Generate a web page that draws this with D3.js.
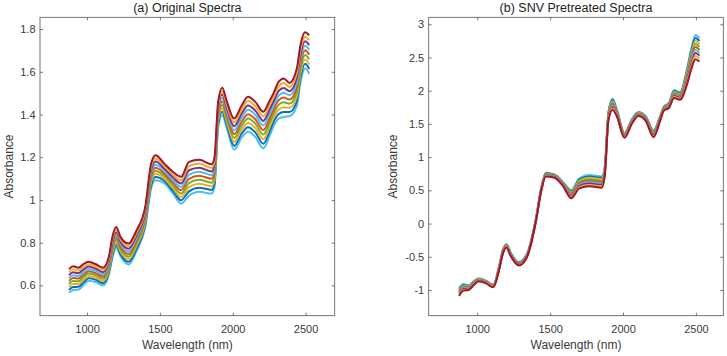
<!DOCTYPE html>
<html>
<head>
<meta charset="utf-8">
<script src="https://cdn.jsdelivr.net/npm/d3@7"></script>
<style>
  html, body { margin: 0; padding: 0; background: #ffffff; }
  svg { display: block; }
  text { font-family: "Liberation Sans", Arial, Helvetica, sans-serif; }
</style>
</head>
<body>
<script>
// ---------------- DATA ----------------
const wavelengths = [876, 905, 940, 975, 1010, 1060, 1110, 1150, 1175, 1200, 1230, 1285, 1340, 1400, 1440, 1470, 1530, 1590, 1645, 1700, 1770, 1855, 1875, 1900, 1928, 1960, 2010, 2060, 2105, 2155, 2210, 2255, 2280, 2315, 2350, 2390, 2440, 2465, 2497, 2525];

// (a) Original spectra (absorbance), bottom to top of the band
const orig0 = [.565,.578,.580,.600,.622,.615,.600,.650,.730,.777,.735,.698,.760,.875,1.055,1.092,1.078,1.030,.983,1.020,1.038,1.030,1.060,1.340,1.397,1.334,1.235,1.290,1.319,1.295,1.241,1.303,1.345,1.380,1.389,1.392,1.440,1.550,1.616,1.590];
const orig1 = [.579,.592,.593,.613,.633,.626,.610,.661,.743,.789,.746,.710,.772,.887,1.069,1.107,1.090,1.043,.999,1.040,1.057,1.047,1.078,1.355,1.413,1.350,1.253,1.309,1.340,1.316,1.263,1.324,1.364,1.402,1.412,1.412,1.462,1.572,1.637,1.613];
const orig2 = [.593,.606,.606,.625,.644,.636,.621,.671,.755,.801,.758,.723,.785,.899,1.084,1.121,1.101,1.055,1.014,1.060,1.076,1.064,1.095,1.370,1.429,1.365,1.272,1.328,1.360,1.336,1.284,1.344,1.384,1.423,1.434,1.431,1.484,1.594,1.658,1.635];
const orig3 = [.607,.620,.619,.638,.655,.647,.631,.682,.768,.813,.769,.735,.797,.911,1.098,1.136,1.113,1.068,1.030,1.079,1.094,1.081,1.113,1.385,1.445,1.381,1.290,1.346,1.381,1.357,1.306,1.365,1.403,1.445,1.457,1.451,1.506,1.616,1.679,1.658];
const orig4 = [.621,.634,.632,.650,.666,.657,.642,.693,.780,.825,.781,.747,.809,.923,1.113,1.151,1.124,1.081,1.046,1.099,1.113,1.099,1.130,1.400,1.461,1.397,1.308,1.365,1.401,1.377,1.327,1.385,1.422,1.467,1.479,1.470,1.528,1.638,1.701,1.680];
const orig5 = [.634,.647,.644,.663,.677,.668,.652,.703,.793,.837,.792,.759,.821,.934,1.127,1.165,1.136,1.093,1.061,1.119,1.132,1.116,1.148,1.415,1.477,1.412,1.326,1.384,1.422,1.398,1.349,1.406,1.441,1.488,1.502,1.490,1.549,1.659,1.722,1.703];
const orig6 = [.648,.661,.657,.675,.688,.678,.662,.714,.805,.849,.803,.772,.834,.946,1.141,1.180,1.147,1.106,1.077,1.139,1.151,1.133,1.165,1.430,1.493,1.428,1.345,1.403,1.442,1.418,1.370,1.426,1.461,1.510,1.524,1.509,1.571,1.681,1.743,1.725];
const orig7 = [.662,.675,.670,.688,.699,.689,.673,.724,.818,.861,.815,.784,.846,.958,1.156,1.194,1.159,1.118,1.092,1.158,1.169,1.150,1.183,1.445,1.509,1.443,1.363,1.421,1.463,1.439,1.392,1.447,1.480,1.531,1.547,1.529,1.593,1.703,1.764,1.748];
const orig8 = [.676,.689,.683,.700,.710,.699,.683,.735,.830,.873,.826,.796,.858,.970,1.170,1.209,1.170,1.131,1.108,1.178,1.188,1.167,1.200,1.460,1.525,1.459,1.381,1.440,1.483,1.459,1.413,1.467,1.499,1.553,1.569,1.548,1.615,1.725,1.785,1.770];

// (b) SNV pretreated spectra
const snv0 = [-1.090,-1.010,-1.000,-0.930,-0.870,-0.900,-0.960,-0.700,-0.460,-0.360,-0.490,-0.630,-0.510,0.000,0.500,0.710,0.690,0.560,0.380,0.530,0.560,0.540,0.720,1.550,1.715,1.600,1.290,1.500,1.620,1.550,1.300,1.550,1.700,1.740,1.890,1.865,2.100,2.300,2.475,2.440];
const snv1 = [-1.075,-0.998,-0.991,-0.923,-0.864,-0.895,-0.955,-0.693,-0.453,-0.354,-0.484,-0.624,-0.504,0.006,0.506,0.717,0.696,0.568,0.395,0.549,0.581,0.561,0.738,1.566,1.736,1.613,1.299,1.509,1.628,1.559,1.313,1.559,1.708,1.750,1.905,1.879,2.130,2.338,2.521,2.484];
const snv2 = [-1.060,-0.985,-0.983,-0.915,-0.859,-0.890,-0.950,-0.685,-0.445,-0.348,-0.478,-0.618,-0.498,0.013,0.513,0.724,0.703,0.575,0.410,0.568,0.603,0.583,0.755,1.583,1.756,1.625,1.308,1.518,1.635,1.568,1.325,1.568,1.715,1.760,1.920,1.893,2.160,2.375,2.566,2.528];
const snv3 = [-1.045,-0.973,-0.974,-0.908,-0.853,-0.885,-0.945,-0.678,-0.438,-0.341,-0.471,-0.611,-0.491,0.019,0.519,0.731,0.709,0.583,0.425,0.586,0.624,0.604,0.773,1.599,1.777,1.638,1.316,1.526,1.643,1.576,1.338,1.576,1.723,1.770,1.935,1.906,2.190,2.413,2.612,2.571];
const snv4 = [-1.030,-0.960,-0.965,-0.900,-0.848,-0.880,-0.940,-0.670,-0.430,-0.335,-0.465,-0.605,-0.485,0.025,0.525,0.738,0.715,0.590,0.440,0.605,0.645,0.625,0.790,1.615,1.798,1.650,1.325,1.535,1.650,1.585,1.350,1.585,1.730,1.780,1.950,1.920,2.220,2.450,2.658,2.615];
const snv5 = [-1.015,-0.948,-0.956,-0.893,-0.842,-0.875,-0.935,-0.663,-0.423,-0.329,-0.459,-0.599,-0.479,0.031,0.531,0.744,0.721,0.598,0.455,0.624,0.666,0.646,0.808,1.631,1.818,1.663,1.334,1.544,1.658,1.594,1.363,1.594,1.738,1.790,1.965,1.934,2.250,2.488,2.703,2.659];
const snv6 = [-1.000,-0.935,-0.948,-0.885,-0.836,-0.870,-0.930,-0.655,-0.415,-0.323,-0.453,-0.593,-0.473,0.038,0.538,0.751,0.728,0.605,0.470,0.643,0.688,0.668,0.825,1.648,1.839,1.675,1.343,1.553,1.665,1.603,1.375,1.603,1.745,1.800,1.980,1.948,2.280,2.525,2.749,2.703];
const snv7 = [-0.985,-0.923,-0.939,-0.878,-0.831,-0.865,-0.925,-0.648,-0.408,-0.316,-0.446,-0.586,-0.466,0.044,0.544,0.758,0.734,0.613,0.485,0.661,0.709,0.689,0.843,1.664,1.859,1.688,1.351,1.561,1.673,1.611,1.388,1.611,1.753,1.810,1.995,1.961,2.310,2.563,2.794,2.746];
const snv8 = [-0.970,-0.910,-0.930,-0.870,-0.825,-0.860,-0.920,-0.640,-0.400,-0.310,-0.440,-0.580,-0.460,0.050,0.550,0.765,0.740,0.620,0.500,0.680,0.730,0.710,0.860,1.680,1.880,1.700,1.360,1.570,1.680,1.620,1.400,1.620,1.760,1.820,2.010,1.975,2.340,2.600,2.840,2.790];

const origSpectra = [orig0, orig1, orig2, orig3, orig4, orig5, orig6, orig7, orig8];
const snvSpectra = [snv8, snv7, snv6, snv5, snv4, snv3, snv2, snv1, snv0];
const spectrumColors = ["#4DBEEE", "#0072BD", "#EDB120", "#77AC30", "#D95319", "#4DBEEE", "#7E2F8E", "#EDB120", "#A2142F"];

const xTicks = [1000, 1500, 2000, 2500];
const yTicksA = [0.6, 0.8, 1, 1.2, 1.4, 1.6, 1.8];
const yTickLabelsA = ["0.6", "0.8", "1", "1.2", "1.4", "1.6", "1.8"];
const yTicksB = [-1, -0.5, 0, 0.5, 1, 1.5, 2, 2.5, 3];
const yTickLabelsB = ["-1", "-0.5", "0", "0.5", "1", "1.5", "2", "2.5", "3"];
const titles = ["(a) Original Spectra", "(b) SNV Pretreated Spectra"];
const xLabel = "Wavelength (nm)";
const yLabel = "Absorbance";

// ---------------- DRAWING ----------------
const W = 727, H = 356;
const svg = d3.select("body").append("svg").attr("width", W).attr("height", H);
const axisColor = "#555555";
const textColor = "#3a3a3a";

function drawPanel(cfg) {
  const x = d3.scaleLinear().domain(cfg.xDomain).range([cfg.left, cfg.right]);
  const y = d3.scaleLinear().domain(cfg.yDomain).range([cfg.bottom, cfg.top]);
  const g = svg.append("g");

  const clipId = "clip" + cfg.id;
  svg.append("clipPath").attr("id", clipId).append("rect")
    .attr("x", cfg.left).attr("y", cfg.top)
    .attr("width", cfg.right - cfg.left).attr("height", cfg.bottom - cfg.top);

  const line = d3.line()
    .x((d, i) => x(wavelengths[i]))
    .y(d => y(d))
    .curve(d3.curveMonotoneX);

  const lg = g.append("g").attr("clip-path", `url(#${clipId})`);
  cfg.spectra.forEach((s, i) => {
    lg.append("path").datum(s)
      .attr("d", line)
      .attr("fill", "none")
      .attr("stroke", spectrumColors[i % spectrumColors.length])
      .attr("stroke-width", 2.0)
      .attr("stroke-linejoin", "round");
  });

  // axes
  const style = sel => {
    sel.select(".domain").remove();
    sel.selectAll(".tick line").attr("stroke", axisColor).attr("stroke-width", 0.8);
    sel.selectAll(".tick text").attr("fill", textColor).attr("font-size", 11)
      .attr("font-family", '"Liberation Sans", Arial, sans-serif');
  };
  g.append("g").attr("transform", `translate(0,${cfg.bottom})`)
    .call(d3.axisBottom(x).tickValues(xTicks).tickFormat(d3.format("d"))
      .tickSizeInner(-3).tickSizeOuter(0).tickPadding(10)).call(style);
  g.append("g").attr("transform", `translate(0,${cfg.top})`)
    .call(d3.axisTop(x).tickValues(xTicks).tickFormat("")
      .tickSizeInner(-3).tickSizeOuter(0)).call(style);
  g.append("g").attr("transform", `translate(${cfg.left},0)`)
    .call(d3.axisLeft(y).tickValues(cfg.yTicks).tickFormat((d, i) => cfg.yTickLabels[i])
      .tickSizeInner(-3).tickSizeOuter(0).tickPadding(4.5)).call(style);
  g.append("g").attr("transform", `translate(${cfg.right},0)`)
    .call(d3.axisRight(y).tickValues(cfg.yTicks).tickFormat("")
      .tickSizeInner(-3).tickSizeOuter(0)).call(style);

  g.append("rect")
    .attr("x", cfg.left).attr("y", cfg.top)
    .attr("width", cfg.right - cfg.left).attr("height", cfg.bottom - cfg.top)
    .attr("fill", "none").attr("stroke", axisColor).attr("stroke-width", 0.8);

  const cx = (cfg.left + cfg.right) / 2;
  g.append("text").attr("x", cx).attr("y", 11.5)
    .attr("text-anchor", "middle").attr("font-size", 12.5).attr("fill", "#222222")
    .text(cfg.title);
  g.append("text").attr("x", cx).attr("y", 349)
    .attr("text-anchor", "middle").attr("font-size", 12).attr("fill", textColor)
    .text(xLabel);
  g.append("text")
    .attr("transform", `translate(${cfg.yLabelX},${(cfg.top + cfg.bottom) / 2}) rotate(-90)`)
    .attr("text-anchor", "middle").attr("font-size", 12).attr("fill", textColor)
    .text(yLabel);
}

drawPanel({
  id: "a", left: 40, right: 334.7, top: 17.3, bottom: 315.7,
  xDomain: [677, 2700], yDomain: [0.458, 1.855],
  yTicks: yTicksA, yTickLabels: yTickLabelsA,
  spectra: origSpectra, title: titles[0], yLabelX: 13
});
drawPanel({
  id: "b", left: 428.7, right: 723.3, top: 17.3, bottom: 315.7,
  xDomain: [667, 2688], yDomain: [-1.387, 3.105],
  yTicks: yTicksB, yTickLabels: yTickLabelsB,
  spectra: snvSpectra, title: titles[1], yLabelX: 397
});
</script>
</body>
</html>
